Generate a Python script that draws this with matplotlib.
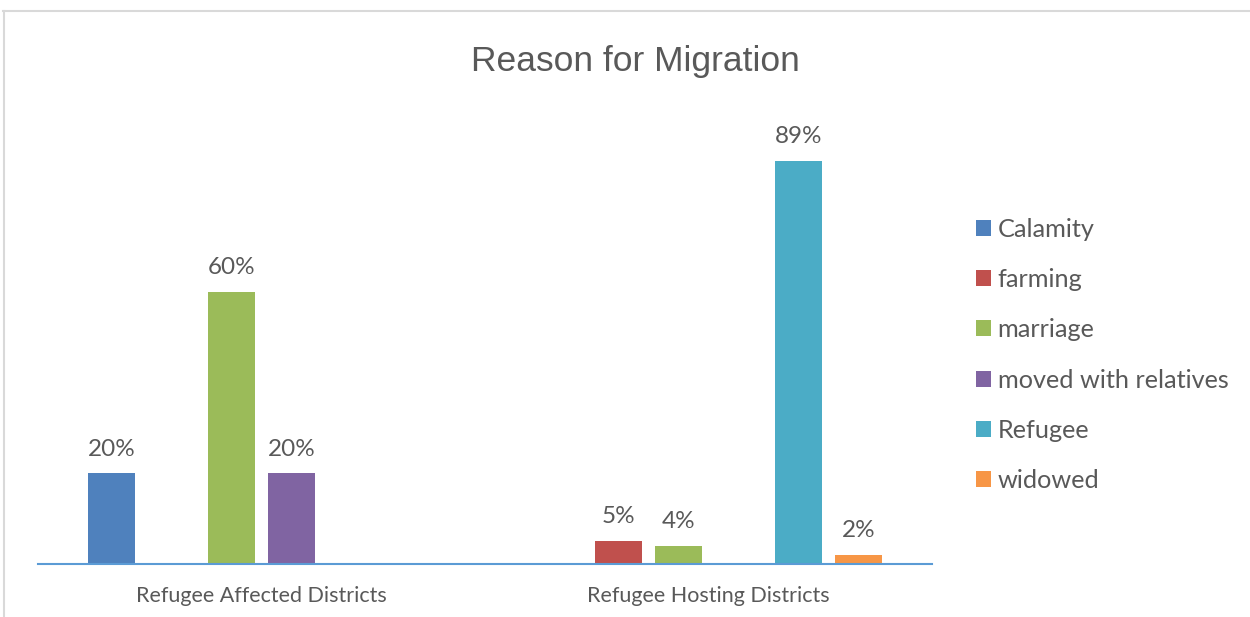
import numpy as np
import matplotlib
matplotlib.use("Agg")
import matplotlib.pyplot as plt
from matplotlib.lines import Line2D

categories = ['Refugee Affected Districts', 'Refugee Hosting Districts']
series_names = ['Calamity', 'farming', 'marriage', 'moved with relatives', 'Refugee', 'widowed']
calamity = [20, 0]
farming = [0, 5]
marriage = [60, 4]
moved = [20, 0]
refugee = [0, 89]
widowed = [0, 2]
colors = ['#4F81BD', '#C0504D', '#9BBB59', '#8064A2', '#4BACC6', '#F79646']

values = [calamity, farming, marriage, moved, refugee, widowed]

body_font = ['Lato', 'DejaVu Sans']
text_col = '#595959'

fig = plt.figure(figsize=(12.5, 6.17), dpi=100)
ax = fig.add_axes([38/1250, 53/617, (932-38)/1250, (564-111)/617])

x = np.arange(len(categories))
slot = 60/447
width = 47/447
handles = []
for i, (name, vals, c) in enumerate(zip(series_names, values, colors)):
    pos = x + (i - 2.5) * slot
    bars = ax.bar(pos, vals, width, color=c, label=name)
    handles.append(bars)
    for b, v in zip(bars, vals):
        if v == 0:
            continue
        ax.annotate(f'{v}%', (b.get_x() + b.get_width()/2, v), xytext=(0, 10),
                    textcoords='offset points', ha='center', va='bottom',
                    fontsize=17.5, color=text_col, family=body_font)

ax.set_xlim(-0.5, 1.5)
ax.set_ylim(0, 100)
ax.set_yticks([])
ax.set_xticks(x)
ax.set_xticklabels(categories, fontsize=15.5, color=text_col, family=body_font)
ax.tick_params(axis='x', length=0, pad=16)
for s in ['top', 'right', 'left']:
    ax.spines[s].set_visible(False)
ax.spines['bottom'].set_color('#5B9BD5')
ax.spines['bottom'].set_linewidth(1.5)

fig.text(0.508, 1 - 61/617, 'Reason for Migration', ha='center', va='center',
         fontsize=25.5, color=text_col, family=['Liberation Sans Narrow', 'Liberation Sans'])

leg = fig.legend(handles=handles, loc='center left', bbox_to_anchor=(966/1250, 1 - 355/617),
                 frameon=False, handlelength=0.6, handleheight=0.6,
                 handletextpad=0.25, labelspacing=1.08, borderaxespad=0,
                 prop={'family': body_font, 'size': 18.2})
for t in leg.get_texts():
    t.set_color(text_col)

# chart frame (cropped)
fig.add_artist(Line2D([3/1250, 1], [1 - 11/617, 1 - 11/617], color='#D9D9D9', lw=1.5,
                      transform=fig.transFigure))
fig.add_artist(Line2D([4/1250, 4/1250], [0, 1 - 11/617], color='#D9D9D9', lw=1.5,
                      transform=fig.transFigure))

fig.savefig('out.png', dpi=100)
